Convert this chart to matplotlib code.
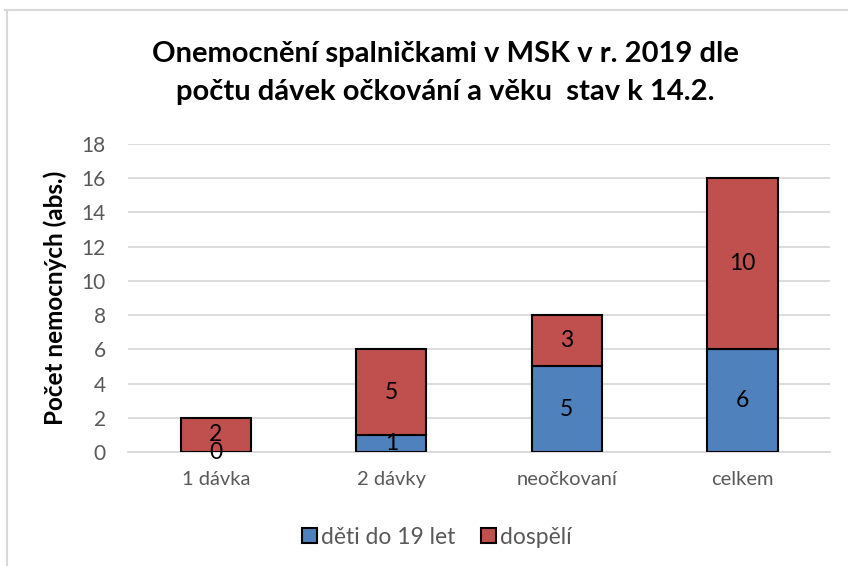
import numpy as np
import matplotlib.pyplot as plt
from matplotlib.patches import Patch
from matplotlib.lines import Line2D

categories = ['1 dávka', '2 dávky', 'neočkovaní', 'celkem']
deti = [0, 1, 5, 6]
dospeli = [2, 5, 3, 10]
series_names = ['děti do 19 let', 'dospělí']
yticks = [0, 2, 4, 6, 8, 10, 12, 14, 16, 18]

blue = '#4F81BD'
red = '#C0504D'
grey = '#595959'

plt.rcParams['font.family'] = ['Lato', 'DejaVu Sans']

fig = plt.figure(figsize=(8.48, 5.66), dpi=100)
ax = fig.add_axes([0.151, 0.2014, 0.828, 0.5442])

x = np.arange(len(categories))
ax.bar(x, deti, width=0.4, color=blue, edgecolor='black', linewidth=1.5, zorder=3)
ax.bar(x, dospeli, width=0.4, bottom=deti, color=red, edgecolor='black', linewidth=1.5, zorder=3)

# data labels in the middle of each segment
for i in range(len(categories)):
    ax.text(x[i], deti[i] / 2, str(deti[i]), ha='center', va='center', fontsize=16.5, zorder=4)
    ax.text(x[i], deti[i] + dospeli[i] / 2, str(dospeli[i]), ha='center', va='center', fontsize=16.5, zorder=4)

ax.set_xlim(-0.5, len(categories) - 0.5)
ax.set_ylim(0, 18)
ax.set_yticks(yticks)
ax.set_xticks(x)
ax.set_xticklabels(categories)
ax.tick_params(axis='both', length=0, colors=grey)
ax.tick_params(axis='y', pad=16, labelsize=15)
ax.tick_params(axis='x', pad=14, labelsize=14.5)
ax.yaxis.grid(True, color='#D9D9D9', linewidth=1.3, zorder=0)
for s in ['top', 'right', 'left']:
    ax.spines[s].set_visible(False)
ax.spines['bottom'].set_color('#D9D9D9')
ax.spines['bottom'].set_linewidth(1.3)

ax.set_ylabel('Počet nemocných (abs.)', fontsize=17.5, fontweight='bold')
ax.yaxis.set_label_coords(-0.087, 0.5)

fig.text(0.525, 0.871, 'Onemocnění spalničkami v MSK v r. 2019 dle\npočtu dávek očkování a věku  stav k 14.2.',
         ha='center', va='center', fontsize=21, fontweight='bold', linespacing=1.6)

handles = [Patch(facecolor=blue, edgecolor='black', linewidth=1.5),
           Patch(facecolor=red, edgecolor='black', linewidth=1.5)]
leg = fig.legend(handles, series_names, loc='center', bbox_to_anchor=(0.515, 0.051), ncol=2,
                 frameon=False, fontsize=16.5, handlelength=0.65, handleheight=0.65,
                 handletextpad=0.2, columnspacing=1.1)
for t in leg.get_texts():
    t.set_color(grey)

# chart border (left and top)
fig.add_artist(Line2D([0.0085, 0.0085], [0.0, 0.983], color='#D9D9D9', linewidth=1.5))
fig.add_artist(Line2D([0.006, 1.0], [0.983, 0.983], color='#D9D9D9', linewidth=1.5))

fig.savefig('out.png', dpi=100)
